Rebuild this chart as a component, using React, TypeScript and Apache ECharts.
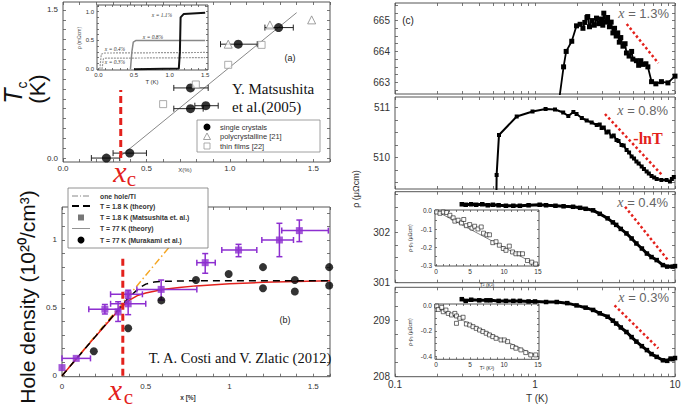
import React, { useEffect, useRef } from "react";
import * as echarts from "echarts";

// ---------------- Panel (a): Tc vs x (Matsushita 2005) ----------------
// [x, Tc, xLow, xHigh]
const aSingleCrystals = [
  [0.26, 0.0, 0.17, 0.34],
  [0.4, 0.05, 0.3, 0.5],
  [0.764, 0.71, 0.664, 0.87],
  [0.764, 0.5, 0.664, 0.84],
  [0.856, 0.53, 0.79, 0.93],
  [1.05, 1.153, 0.944, 1.164],
  [1.292, 1.321, 1.21, 1.38],
];
const aPolycrystalline = [[1.24, 1.348], [0.99, 1.153], [1.49, 1.399]];
const aThinFilms = [[0.6, 0.546], [0.796, 0.745], [0.99, 0.944], [1.19, 1.146]];
const aGuideLine = [[0.35, 0.026], [1.4, 1.472]];
const aXcLine = [[0.346, 0], [0.346, 0.69]];
const aXLabels = [0, 0.5, 1.0, 1.5];
const aYLabels = [0, 1.5];

// inset of (a): rho (mOhm cm) vs T (K)
const aInset11 = [[0.5, 0.0], [1.13, 0.01], [1.145, 0.3], [1.155, 0.9], [1.2, 0.96], [1.5, 0.98]];
const aInset08 = [[0.45, 0.0], [0.47, 0.3], [0.49, 0.47], [0.53, 0.5], [1.5, 0.5]];
const aInset04 = [[0.02, 0.0], [0.04, 0.26], [0.08, 0.28], [1.5, 0.29]];
const aInset03 = [[0.05, 0.0], [0.07, 0.18], [0.1, 0.19], [1.5, 0.2]];
const aInsetXLabels = [0, 0.5, 1.0, 1.5];
const aInsetYLabels = [0, 0.5, 1.0];

// ---------------- Panel (b): hole density vs x (Costi & Zlatic 2012) ----------------
const bOneHole = [[0, 0], [0.84, 1.243]];
const bTheory18 = [[0, 0], [0.2, 0.29], [0.3, 0.435], [0.38, 0.55], [0.42, 0.6], [0.46, 0.645], [0.5, 0.675], [0.55, 0.69], [0.6, 0.695], [0.8, 0.7], [1.6, 0.7]];
const bTheory77 = [[0, 0], [0.2, 0.29], [0.35, 0.5], [0.4, 0.555], [0.45, 0.59], [0.5, 0.61], [0.6, 0.635], [0.7, 0.65], [0.8, 0.662], [1.0, 0.678], [1.2, 0.688], [1.4, 0.695], [1.6, 0.7]];
// [x, n, xLow, xHigh, yLow, yHigh]
const bMatsushita = [
  [0.0, 0.06, 0.0, 0.0, 0.06, 0.06],
  [0.085, 0.128, 0.0, 0.17, 0.128, 0.128],
  [0.256, 0.49, 0.16, 0.345, 0.455, 0.525],
  [0.335, 0.47, 0.335, 0.335, 0.4, 0.545],
  [0.395, 0.6, 0.29, 0.48, 0.57, 0.63],
  [0.395, 0.53, 0.29, 0.5, 0.45, 0.6],
  [0.592, 0.636, 0.447, 0.805, 0.558, 0.705],
  [0.855, 0.833, 0.805, 0.915, 0.755, 0.9],
  [1.054, 0.926, 0.954, 1.163, 0.877, 0.968],
  [1.298, 1.0, 1.193, 1.382, 0.877, 1.123],
  [1.417, 1.069, 1.312, 1.59, 0.988, 1.147],
];
const bMurakami = [[0.19, 0.18], [0.395, 0.35], [0.593, 0.555], [0.8, 0.705], [0.995, 0.75], [1.2, 0.8], [1.2, 0.645], [1.39, 0.705], [1.39, 0.62], [1.595, 0.8], [1.595, 0.665]];
const bXcLine = [[0.363, 0], [0.363, 0.867]];
const bXLabels = [0, 0.5, 1, 1.5];
const bYLabels = [0, 0.5, 1];

// ---------------- Panel (c): rho(T) for four x ----------------
const c13 = [[1.5, 662.55], [1.6, 663.5], [1.67, 664.0], [1.83, 664.33], [1.98, 664.83], [2.1, 664.88], [2.2, 664.75], [2.27, 664.94], [2.35, 665.1], [2.38, 665.13], [2.45, 664.8], [2.55, 665.0], [2.65, 664.85], [2.75, 665.08], [2.85, 664.9], [2.95, 665.05], [3.05, 664.85], [3.1, 665.24], [3.2, 664.95], [3.3, 665.1], [3.4, 664.8], [3.5, 664.95], [3.6, 664.6], [3.7, 664.75], [3.8, 664.5], [3.9, 664.6], [4.0, 664.3], [4.1, 664.45], [4.25, 664.17], [4.4, 664.25], [4.5, 663.95], [4.7, 663.85], [4.9, 664.0], [5.0, 663.75], [5.3, 663.7], [5.5, 663.55], [5.7, 663.7], [5.9, 663.58], [6.2, 663.6], [6.4, 663.5], [6.8, 663.02], [7.3, 662.95], [8.0, 663.02], [8.9, 662.98], [10, 663.2]];
const c08 = [[0.53, 509.2], [0.532, 509.65], [0.553, 510.45], [0.74, 510.82], [0.96, 510.92], [1.19, 510.97], [1.39, 510.96], [1.59, 510.9], [1.73, 510.83], [1.88, 510.91], [1.98, 510.87], [2.16, 510.79], [2.34, 510.74], [2.54, 510.7], [2.76, 510.65], [2.9, 510.66], [2.99, 510.59], [3.1, 510.6], [3.24, 510.5], [3.35, 510.52], [3.52, 510.42], [3.65, 510.44], [3.82, 510.35], [3.95, 510.33], [4.15, 510.25], [4.3, 510.24], [4.51, 510.15], [4.7, 510.1], [4.9, 510.02], [5.1, 509.98], [5.3, 509.92], [5.5, 509.88], [5.78, 509.82], [6.0, 509.77], [6.27, 509.72], [6.5, 509.68], [6.8, 509.63], [7.1, 509.6], [7.4, 509.57], [8.0, 509.55], [8.7, 509.55], [9.2, 509.52], [9.5, 509.57], [9.8, 509.61]];
const c04 = [[0.3, 302.56], [0.32, 302.55], [0.35, 302.56], [0.38, 302.55], [0.42, 302.56], [0.46, 302.54], [0.5, 302.55], [0.55, 302.54], [0.62, 302.53], [0.7, 302.53], [0.78, 302.53], [0.9, 302.54], [1.08, 302.55], [1.2, 302.54], [1.4, 302.53], [1.6, 302.52], [1.87, 302.51], [2.1, 302.49], [2.3, 302.47], [2.6, 302.44], [2.9, 302.37], [3.3, 302.28], [3.6, 302.2], [3.8, 302.15], [4.1, 302.07], [4.5, 301.98], [4.9, 301.88], [5.3, 301.78], [5.8, 301.68], [6.3, 301.58], [6.8, 301.51], [7.4, 301.45], [8.2, 301.35], [8.8, 301.32], [9.6, 301.32], [10, 301.33]];
const c03 = [[0.3, 209.37], [0.32, 209.34], [0.35, 209.36], [0.4, 209.35], [0.45, 209.35], [0.48, 209.35], [0.55, 209.34], [0.62, 209.34], [0.7, 209.34], [0.78, 209.34], [0.9, 209.33], [1.0, 209.33], [1.2, 209.32], [1.43, 209.32], [1.7, 209.3], [1.98, 209.26], [2.3, 209.22], [2.6, 209.18], [2.9, 209.12], [3.3, 209.06], [3.6, 208.99], [3.8, 208.94], [4.1, 208.87], [4.5, 208.79], [4.9, 208.7], [5.3, 208.62], [5.8, 208.54], [6.3, 208.47], [6.8, 208.4], [7.4, 208.35], [8.2, 208.29], [8.8, 208.28], [9.3, 208.32], [9.6, 208.31], [10, 208.33]];
const cLnT13 = [[4.52, 664.89], [7.6, 663.62]];
const cLnT08 = [[3.16, 510.87], [8.2, 509.63]];
const cLnT04 = [[4.4, 302.51], [8.9, 301.45]];
const cLnT03 = [[3.7, 209.26], [7.6, 208.5]];
const cXLabels = [0.1, 1, 10];
const cXTicks = [0.1, 0.2, 0.3, 0.4, 0.5, 0.6, 0.7, 0.8, 0.9, 1, 2, 3, 4, 5, 6, 7, 8, 9, 10];

// insets of (c): rho - rho0 vs T^2
const cIns04 = [[0.1, -0.006], [0.58, -0.013], [1.07, -0.006], [1.55, -0.009], [2.04, -0.024], [2.52, -0.038], [2.77, -0.056], [3.25, -0.051], [3.74, -0.066], [4.08, -0.047], [4.47, -0.081], [4.95, -0.075], [5.29, -0.094], [5.68, -0.084], [6.17, -0.099], [6.65, -0.088], [6.99, -0.122], [7.48, -0.131], [7.86, -0.131], [8.35, -0.174], [8.83, -0.169], [9.32, -0.188], [9.9, -0.206], [10.29, -0.216], [10.78, -0.193], [11.26, -0.225], [11.75, -0.235], [12.23, -0.235], [12.72, -0.235], [13.45, -0.272], [14.08, -0.281], [14.66, -0.291]];
const cIns04Fit = [[0, 0], [15, -0.3]];
const cIns03 = [[0.1, -0.008], [0.34, -0.034], [0.83, -0.018], [1.07, -0.052], [1.46, -0.039], [1.8, -0.065], [2.28, -0.077], [2.77, -0.065], [3.01, -0.085], [3.5, -0.103], [3.01, -0.142], [3.98, -0.095], [4.47, -0.147], [4.95, -0.155], [5.44, -0.168], [5.92, -0.181], [6.41, -0.194], [6.89, -0.206], [7.38, -0.219], [7.86, -0.232], [8.35, -0.245], [8.83, -0.258], [9.56, -0.271], [10.05, -0.271], [10.53, -0.284], [11.26, -0.323], [11.75, -0.335], [12.48, -0.348], [13.2, -0.369], [13.93, -0.387], [14.66, -0.387]];
const cIns03Fit = [[0, -0.02], [15, -0.4]];
const cInsXLabels = [0, 5, 10, 15];
const cIns04YLabels = [0, -0.1, -0.2, -0.3];
const cIns03YLabels = [0, -0.2, -0.4];

const RED = "#e3211c";
const PURPLE = "#8d2fd0";
const ORANGE = "#f5a623";
const FRAME = "#555";
const SANS = "Liberation Sans, Arial, sans-serif";
const SERIF = "Liberation Serif, Times New Roman, serif";

const steps = (a: number, b: number, s: number) => {
  const out: number[] = [];
  const n = Math.round((b - a) / s);
  for (let i = 0; i <= n; i++) out.push(+(a + i * s).toFixed(4));
  return out;
};

type AxisCfg = {
  type?: "value" | "log";
  min: number;
  max: number;
  ticks: number[];
  labels?: number[];
  tickLen?: number;
  fontSize?: number;
  margin?: number;
  fmt?: (v: number) => string;
};

function buildOption() {
  const grids: any[] = [];
  const xAxes: any[] = [];
  const yAxes: any[] = [];
  const series: any[] = [];

  const mkAxis = (gi: number, c: AxisCfg, position: string, withLabels: boolean) => {
    const ax: any = {
      gridIndex: gi,
      type: c.type ?? "value",
      position,
      min: c.min,
      max: c.max,
      axisLine: { show: false, onZero: false },
      axisTick: { show: true, inside: true, length: c.tickLen ?? 3, customValues: c.ticks, lineStyle: { color: FRAME, width: 0.8 } },
      axisLabel:
        withLabels && c.labels
          ? { show: true, customValues: c.labels, fontSize: c.fontSize ?? 8, color: "#333", margin: c.margin ?? 4, fontFamily: SANS, formatter: c.fmt }
          : { show: false },
      splitLine: { show: false },
    };
    if (ax.type === "log") ax.logBase = 10;
    return ax;
  };

  const addPanel = (g: { left: number; top: number; width: number; height: number; bg?: string }, xc: AxisCfg, yc: AxisCfg) => {
    const gi = grids.length;
    grids.push({ left: g.left, top: g.top, width: g.width, height: g.height, show: true, borderColor: FRAME, borderWidth: 1, backgroundColor: g.bg ?? "transparent" });
    const xi = xAxes.length;
    xAxes.push(mkAxis(gi, xc, "bottom", true));
    xAxes.push(mkAxis(gi, xc, "top", false));
    const yi = yAxes.length;
    yAxes.push(mkAxis(gi, yc, "left", true));
    yAxes.push(mkAxis(gi, yc, "right", false));
    return { xAxisIndex: xi, yAxisIndex: yi };
  };

  const f1 = (v: number) => v.toFixed(1);

  // panel (a)
  const A = addPanel(
    { left: 63, top: 2, width: 267, height: 160 },
    { min: 0, max: 1.6, ticks: steps(0, 1.6, 0.1), labels: aXLabels, fmt: f1, margin: 2, fontSize: 8 },
    { min: -0.04, max: 1.58, ticks: steps(0, 1.5, 0.1), labels: aYLabels, fmt: f1, margin: 5, fontSize: 8 }
  );
  const AI = addPanel(
    { left: 97, top: 5, width: 111, height: 65, bg: "#fff" },
    { min: -0.02, max: 1.54, ticks: steps(0, 1.5, 0.1), labels: aInsetXLabels, fmt: f1, margin: 2, fontSize: 6, tickLen: 2 },
    { min: -0.015, max: 1.115, ticks: steps(0, 1.1, 0.1), labels: aInsetYLabels, fmt: f1, margin: 3, fontSize: 6, tickLen: 2 }
  );
  const B = addPanel(
    { left: 62, top: 207, width: 268, height: 169.7 },
    { min: 0, max: 1.6, ticks: steps(0, 1.6, 0.1), labels: bXLabels, margin: 6, fontSize: 8 },
    { min: -0.007, max: 1.243, ticks: steps(0, 1.2, 0.1), labels: bYLabels, margin: 5, fontSize: 8 }
  );
  const cX = (labels?: number[]): AxisCfg => ({
    type: "log", min: 0.1, max: 10, ticks: cXTicks, labels, tickLen: 3, fontSize: 10, margin: 3,
    fmt: (v: number) => (v < 0.5 ? "0.1" : String(Math.round(v))),
  });
  const cY = (min: number, max: number, labels: number[], t0: number, t1: number): AxisCfg => ({
    min, max, ticks: steps(t0, t1, 0.25), labels, tickLen: 3, fontSize: 10, margin: 5, fmt: (v: number) => String(Math.round(v)),
  });
  const C1 = addPanel({ left: 395, top: 3, width: 280, height: 91 }, cX(), cY(662.62, 665.57, [663, 664, 665], 662.75, 665.5));
  const C2 = addPanel({ left: 395, top: 97, width: 280, height: 92 }, cX(), cY(509.37, 511.21, [510, 511], 509.5, 511));
  const C3 = addPanel({ left: 395, top: 191.7, width: 280, height: 91 }, cX(), cY(301, 302.81, [301, 302], 301, 302.75));
  const C4 = addPanel({ left: 395, top: 287.3, width: 280, height: 89.4 }, cX(cXLabels), cY(208, 209.58, [208, 209], 208, 209.5));
  const insX: AxisCfg = { min: -0.15, max: 15.15, ticks: steps(0, 15, 1), labels: cInsXLabels, fontSize: 6.5, margin: 2, tickLen: 2 };
  const CI3 = addPanel(
    { left: 435, top: 210, width: 104, height: 56, bg: "#fff" },
    insX,
    { min: -0.302, max: 0.005, ticks: steps(-0.3, 0, 0.05), labels: cIns04YLabels, fontSize: 6.5, margin: 3, tickLen: 2, fmt: f1 }
  );
  const CI4 = addPanel(
    { left: 435, top: 304, width: 104, height: 55.3, bg: "#fff" },
    insX,
    { min: -0.421, max: 0.008, ticks: steps(-0.4, 0, 0.05), labels: cIns03YLabels, fontSize: 6.5, margin: 3, tickLen: 2, fmt: f1 }
  );

  const errBars = (color: string, lw: number, cap: number) => (_p: any, api: any) => {
    const x = api.value(0), y = api.value(1);
    const xl = api.value(2), xh = api.value(3), yl = api.value(4), yh = api.value(5);
    const st = { stroke: color, lineWidth: lw };
    const ch: any[] = [];
    if (xh > xl) {
      const p1 = api.coord([xl, y]), p2 = api.coord([xh, y]);
      ch.push({ type: "line", shape: { x1: p1[0], y1: p1[1], x2: p2[0], y2: p2[1] }, style: st });
      ch.push({ type: "line", shape: { x1: p1[0], y1: p1[1] - cap, x2: p1[0], y2: p1[1] + cap }, style: st });
      ch.push({ type: "line", shape: { x1: p2[0], y1: p2[1] - cap, x2: p2[0], y2: p2[1] + cap }, style: st });
    }
    if (yh !== undefined && yh > yl) {
      const p1 = api.coord([x, yl]), p2 = api.coord([x, yh]);
      ch.push({ type: "line", shape: { x1: p1[0], y1: p1[1], x2: p2[0], y2: p2[1] }, style: st });
      ch.push({ type: "line", shape: { x1: p1[0] - cap, y1: p1[1], x2: p1[0] + cap, y2: p1[1] }, style: st });
      ch.push({ type: "line", shape: { x1: p2[0] - cap, y1: p2[1], x2: p2[0] + cap, y2: p2[1] }, style: st });
    }
    return { type: "group", children: ch };
  };

  const line = (ax: any, data: any, color: string, width: number, type: any = "solid", extra: any = {}) => ({
    type: "line", ...ax, data, symbol: "none", lineStyle: { color, width, type }, z: 3, ...extra,
  });

  // (a)
  series.push(line(A, aGuideLine, "#888", 1));
  series.push({ type: "custom", ...A, data: aSingleCrystals.map((d) => [d[0], d[1], d[2], d[3], d[1], d[1]]), renderItem: errBars("#222", 1, 3), encode: { x: 0, y: 1 }, z: 4 });
  series.push({ type: "scatter", ...A, data: aSingleCrystals.map((d) => [d[0], d[1]]), symbol: "circle", symbolSize: 9, itemStyle: { color: "#000" }, z: 5 });
  series.push({ type: "scatter", ...A, data: aPolycrystalline, symbol: "triangle", symbolSize: 8, itemStyle: { color: "#fff", borderColor: "#888", borderWidth: 1 }, z: 5 });
  series.push({ type: "scatter", ...A, data: aThinFilms, symbol: "rect", symbolSize: 7, itemStyle: { color: "#fff", borderColor: "#999", borderWidth: 1 }, z: 5 });
  series.push(line(A, aXcLine, RED, 3, [7, 4], { z: 6 }));
  // (a) inset
  series.push(line(AI, aInset04, "#999", 1.2, [2, 1]));
  series.push(line(AI, aInset03, "#999", 1.2, [2, 1]));
  series.push(line(AI, aInset08, "#888", 1.5));
  series.push(line(AI, aInset11, "#111", 2));

  // (b)
  series.push(line(B, bOneHole, ORANGE, 1.5, [7, 3, 1.5, 3]));
  series.push(line(B, bTheory77, RED, 1.5));
  series.push(line(B, bTheory18, "#000", 1.5, [7, 5], { z: 4 }));
  series.push({ type: "custom", ...B, data: bMatsushita, renderItem: errBars(PURPLE, 1.5, 3), encode: { x: 0, y: 1 }, z: 5 });
  series.push({ type: "scatter", ...B, data: bMatsushita.map((d) => [d[0], d[1]]), symbol: "rect", symbolSize: 7, itemStyle: { color: PURPLE }, z: 6 });
  series.push({ type: "scatter", ...B, data: bMurakami, symbol: "circle", symbolSize: 8, itemStyle: { color: "#000" }, z: 6 });
  series.push(line(B, bXcLine, RED, 3, [7, 4], { z: 7 }));

  // (c)
  const curve = (ax: any, data: any, size: number, lw: number) => ({
    type: "line", ...ax, data, symbol: "rect", symbolSize: size, showSymbol: true, showAllSymbol: true,
    itemStyle: { color: "#000" }, lineStyle: { color: "#000", width: lw }, z: 4,
  });
  series.push(curve(C1, c13, 5, 1.8));
  series.push(curve(C2, c08, 4, 2));
  series.push(curve(C3, c04, 4.5, 3));
  series.push(curve(C4, c03, 4.5, 3));
  series.push(line(C1, cLnT13, RED, 2.5, [2.5, 2.5], { z: 5 }));
  series.push(line(C2, cLnT08, RED, 2.5, [2.5, 2.5], { z: 5 }));
  series.push(line(C3, cLnT04, RED, 2.5, [2.5, 2.5], { z: 5 }));
  series.push(line(C4, cLnT03, RED, 2.5, [2.5, 2.5], { z: 5 }));
  // (c) insets
  series.push(line(CI3, cIns04Fit, "#666", 0.8));
  series.push({ type: "scatter", ...CI3, data: cIns04, symbol: "rect", symbolSize: 4, itemStyle: { color: "#fff", borderColor: "#000", borderWidth: 0.7 }, z: 5 });
  series.push(line(CI4, cIns03Fit, "#666", 0.8));
  series.push({ type: "scatter", ...CI4, data: cIns03, symbol: "rect", symbolSize: 4, itemStyle: { color: "#fff", borderColor: "#000", borderWidth: 0.7 }, z: 5 });

  // ---------------- graphic texts and legends ----------------
  const txt = (x: number, y: number, text: string, s: any = {}, rot = 0, extra: any = {}) => ({
    type: "text", x, y, rotation: rot, z: 20, ...extra,
    style: { text, fontFamily: SANS, fontSize: 10, fill: "#222", align: "center", verticalAlign: "middle", ...s },
  });
  const R90 = Math.PI / 2;
  const g: any[] = [];
  // axis titles
  g.push(txt(13, 96, "T", { fontSize: 25, fontStyle: "italic", fill: "#111" }, R90));
  g.push(txt(21.5, 85, "c", { fontSize: 14, fill: "#111" }, R90));
  g.push(txt(37.5, 89, "(K)", { fontSize: 22, fill: "#111" }, R90));
  g.push(txt(27, 297, "Hole density (10²⁰/cm³)", { fontSize: 21, fill: "#111" }, R90));
  g.push(txt(356, 189, "ρ (μΩcm)", { fontSize: 9, fill: "#333" }, R90));
  g.push(txt(537, 398.5, "T (K)", { fontSize: 10, fill: "#333" }));
  g.push(txt(185, 169.5, "X(%)", { fontSize: 6, fill: "#444" }));
  g.push(txt(188, 397, "x [%]", { fontSize: 6.5, fill: "#333", fontWeight: "bold" }));
  // x_c markers
  g.push(txt(120, 171, "x", { fontSize: 30, fontFamily: SERIF, fontStyle: "italic", fill: RED }));
  g.push(txt(131.5, 179, "c", { fontSize: 21, fontFamily: SERIF, fill: RED }));
  g.push(txt(115.5, 389, "x", { fontSize: 30, fontFamily: SERIF, fontStyle: "italic", fill: RED }));
  g.push(txt(128.5, 396.5, "c", { fontSize: 21, fontFamily: SERIF, fill: RED }));
  // panel annotations
  g.push(txt(232, 89, "Y. Matsushita", { fontSize: 15, fontFamily: SERIF, align: "left", fill: "#111" }));
  g.push(txt(232, 107, "et al.(2005)", { fontSize: 15, fontFamily: SERIF, align: "left", fill: "#111" }));
  g.push(txt(290, 58, "(a)", { fontSize: 9 }));
  g.push(txt(285, 320, "(b)", { fontSize: 9 }));
  g.push(txt(408, 20, "(c)", { fontSize: 10 }));
  g.push(txt(240, 358, "T. A. Costi and V. Zlatic (2012)", { fontSize: 14.5, fontFamily: SERIF, fill: "#111" }));
  g.push(txt(648, 138, "-lnT", { fontSize: 16, fontFamily: SERIF, fontWeight: "bold", fill: RED }));
  const xLab = (x: number, y: number, v: string) =>
    txt(x, y, `{i|x}{n| = ${v}}`, {
      align: "right",
      rich: {
        i: { fontFamily: SERIF, fontStyle: "italic", fontSize: 14, fill: "#666", color: "#666" },
        n: { fontFamily: SANS, fontSize: 13, fill: "#666", color: "#666" },
      },
    });
  g.push(xLab(669, 13, "1.3%"));
  g.push(xLab(668, 110, "0.8%"));
  g.push(xLab(668, 202, "0.4%"));
  g.push(xLab(669, 297, "0.3%"));
  // inset (a) labels
  const insT = (x: number, y: number, v: string) => txt(x, y, `x = ${v}`, { fontSize: 5.5, fontFamily: SERIF, fontStyle: "italic", fill: "#333" });
  g.push(insT(162, 15, "1.1%"));
  g.push(insT(153, 37, "0.8%"));
  g.push(insT(115, 49, "0.4%"));
  g.push(insT(115, 62, "0.3%"));
  g.push(txt(152, 82, "T (K)", { fontSize: 6, fill: "#333" }));
  g.push(txt(79, 38, "ρ (mΩcm)", { fontSize: 5, fill: "#555" }, R90));
  // inset (c) labels
  g.push(txt(487, 284.5, "T² (K²)", { fontSize: 5, fill: "#333" }));
  g.push(txt(487, 368, "T² (K²)", { fontSize: 5, fill: "#333" }));
  g.push(txt(410, 238, "ρ-ρ₀ (μΩcm)", { fontSize: 5, fill: "#333" }, R90));
  g.push(txt(410, 332, "ρ-ρ₀ (μΩcm)", { fontSize: 5, fill: "#333" }, R90));

  // legend (a)
  g.push({ type: "rect", z: 18, shape: { x: 197, y: 120, width: 123, height: 32 }, style: { fill: "#fff", stroke: "#888", lineWidth: 0.8 } });
  g.push({ type: "circle", z: 19, shape: { cx: 207, cy: 127, r: 3.5 }, style: { fill: "#000" } });
  g.push({ type: "polygon", z: 19, shape: { points: [[207, 133], [203.5, 139.5], [210.5, 139.5]] }, style: { fill: "#fff", stroke: "#888", lineWidth: 0.8 } });
  g.push({ type: "rect", z: 19, shape: { x: 204, y: 143, width: 6, height: 6 }, style: { fill: "#fff", stroke: "#999", lineWidth: 0.8 } });
  g.push(txt(220, 127, "single crystals", { fontSize: 7.5, align: "left", fill: "#333" }));
  g.push(txt(220, 136.7, "polycrystalline [21]", { fontSize: 7.5, align: "left", fill: "#333" }));
  g.push(txt(220, 146, "thin films [22]", { fontSize: 7.5, align: "left", fill: "#333" }));

  // legend (b)
  g.push({ type: "rect", z: 18, shape: { x: 68, y: 188, width: 140, height: 60 }, style: { fill: "#fff", stroke: "#777", lineWidth: 0.8 } });
  g.push({ type: "line", z: 19, shape: { x1: 72, y1: 196, x2: 90, y2: 196 }, style: { stroke: "#888", lineWidth: 1, lineDash: [6, 2, 1, 2] } });
  g.push({ type: "line", z: 19, shape: { x1: 72, y1: 206, x2: 90, y2: 206 }, style: { stroke: "#000", lineWidth: 2, lineDash: [7, 4] } });
  g.push({ type: "rect", z: 19, shape: { x: 78, y: 214.5, width: 6, height: 6 }, style: { fill: "#777" } });
  g.push({ type: "line", z: 19, shape: { x1: 72, y1: 228.5, x2: 90, y2: 228.5 }, style: { stroke: "#777", lineWidth: 0.8 } });
  g.push({ type: "circle", z: 19, shape: { cx: 81, cy: 240, r: 3.5 }, style: { fill: "#000" } });
  const bl = ["one hole/Tl", "T = 1.8 K (theory)", "T = 1.8 K (Matsushita et. al.)", "T = 77 K (theory)", "T = 77 K (Murakami et al.)"];
  const by = [196, 206, 217.7, 228.5, 240];
  bl.forEach((t, i) => g.push(txt(100, by[i], t, { fontSize: 6.8, align: "left", fill: "#333", fontWeight: "bold" })));

  return {
    animation: false,
    backgroundColor: "#fff",
    grid: grids,
    xAxis: xAxes,
    yAxis: yAxes,
    series,
    graphic: { elements: g },
  };
}

export default function App() {
  const ref = useRef<HTMLDivElement>(null);
  useEffect(() => {
    document.body.style.margin = "0";
    if (!ref.current) return;
    const chart = echarts.init(ref.current, undefined, { renderer: "svg" });
    chart.setOption(buildOption() as any);
    return () => chart.dispose();
  }, []);
  return <div ref={ref} style={{ width: 685, height: 409 }} />;
}
